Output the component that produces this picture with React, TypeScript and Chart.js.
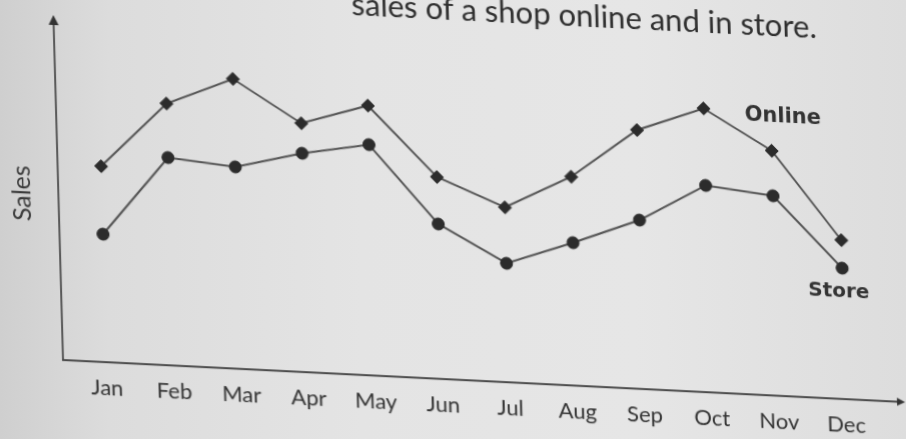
import React, { useEffect, useRef } from "react";
import { Chart, registerables } from "chart.js";

Chart.register(...registerables);

// ---- data (y units are arbitrary "sales") ----
const months = ["Jan", "Feb", "Mar", "Apr", "May", "Jun", "Jul", "Aug", "Sep", "Oct", "Nov", "Dec"];
const onlineSales = [196, 262, 290, 249, 270, 202, 175, 209, 259, 284, 245, 159];
const storeSales = [128, 208, 202, 219, 231, 155, 119, 143, 169, 207, 200, 131];
const yMax = 340;

const titleText = "sales of a shop online and in store.";
const yAxisTitle = "Sales";
const onlineLabel = "Online";
const storeLabel = "Store";

const ink = "#333333";
const lineInk = "#525252";
const markInk = "#2c2c2c";

const decorPlugin = {
  id: "decor",
  afterDraw(chart: any) {
    const { ctx, chartArea } = chart;
    const ax = chartArea.left - 10;
    const ay = chartArea.bottom;
    ctx.save();
    // axes
    ctx.strokeStyle = "#4a4a4a";
    ctx.fillStyle = "#333";
    ctx.lineWidth = 1.8;
    ctx.beginPath();
    ctx.moveTo(ax, ay);
    ctx.lineTo(ax, chartArea.top + 2);
    ctx.stroke();
    ctx.beginPath();
    ctx.moveTo(ax, chartArea.top - 5);
    ctx.lineTo(ax - 5, chartArea.top + 5);
    ctx.lineTo(ax + 5, chartArea.top + 5);
    ctx.closePath();
    ctx.fill();

    const tipX = 905;
    ctx.beginPath();
    ctx.moveTo(ax - 1, ay);
    ctx.lineTo(tipX - 4, ay);
    ctx.stroke();
    ctx.beginPath();
    ctx.moveTo(tipX, ay);
    ctx.lineTo(tipX - 8, ay - 4);
    ctx.lineTo(tipX - 8, ay + 4);
    ctx.closePath();
    ctx.fill();

    // y-axis title
    ctx.save();
    ctx.fillStyle = "#3a3a3a";
    ctx.font = "25px Lato";
    ctx.textAlign = "center";
    ctx.textBaseline = "middle";
    ctx.translate(27, (chartArea.top + chartArea.bottom) / 2 + 5);
    ctx.rotate(-Math.PI / 2);
    ctx.fillText(yAxisTitle, 0, 0);
    ctx.restore();

    // title (top line partly cut in the photo)
    ctx.fillStyle = "#2f2f2f";
    ctx.font = "31px Lato";
    ctx.textAlign = "right";
    ctx.textBaseline = "middle";
    ctx.fillText(titleText, 827, 30);

    // series labels
    ctx.fillStyle = ink;
    ctx.textAlign = "center";
    ctx.font = "bold 21px 'DejaVu Sans'";
    const on = chart.getDatasetMeta(0).data[10];
    if (on) ctx.fillText(onlineLabel, on.x + 12, on.y - 34);
    ctx.font = "bold 20px 'DejaVu Sans'";
    const st = chart.getDatasetMeta(1).data[11];
    if (st) ctx.fillText(storeLabel, st.x - 4, st.y + 24);
    ctx.restore();
  },
};

export default function App() {
  const ref = useRef<HTMLCanvasElement | null>(null);

  useEffect(() => {
    if (!ref.current) return;
    const chart = new Chart(ref.current, {
      type: "line",
      data: {
        labels: months,
        datasets: [
          {
            label: onlineLabel,
            data: onlineSales,
            borderColor: lineInk,
            borderWidth: 2,
            tension: 0,
            pointStyle: "rectRot",
            pointRadius: 6.5,
            pointBackgroundColor: markInk,
            pointBorderColor: markInk,
            pointBorderWidth: 1,
          },
          {
            label: storeLabel,
            data: storeSales,
            borderColor: lineInk,
            borderWidth: 2,
            tension: 0,
            pointStyle: "circle",
            pointRadius: 6,
            pointBackgroundColor: markInk,
            pointBorderColor: markInk,
            pointBorderWidth: 1,
          },
        ],
      },
      options: {
        responsive: false,
        animation: false,
        devicePixelRatio: 1,
        layout: { padding: { top: 60, bottom: 48.6, left: 73, right: 60.6 } },
        plugins: {
          legend: { display: false },
          tooltip: { enabled: false },
          title: { display: false },
        },
        scales: {
          x: {
            offset: true,
            grid: { display: false, drawTicks: false, tickLength: 0 },
            border: { display: false },
            ticks: {
              padding: 12.5,
              color: ink,
              font: { family: "Lato", size: 22 },
              maxRotation: 0,
              autoSkip: false,
            },
          },
          y: {
            display: false,
            min: 0,
            max: yMax,
          },
        },
      },
      plugins: [decorPlugin],
    });
    return () => chart.destroy();
  }, []);

  return (
    <div
      style={{
        position: "absolute",
        left: 0,
        top: 0,
        width: 906,
        height: 439,
        overflow: "hidden",
        background:
          "linear-gradient(90deg, #cfcfcf 0%, #dcdcdc 12%, #e4e4e4 40%, #e6e6e6 70%, #dddddd 100%)",
      }}
    >
      <div
        style={{
          position: "absolute",
          left: 0,
          top: -40,
          width: 940,
          height: 500,
          transform: "matrix(1, 0.05, 0.028, 1, 0, 0)",
          transformOrigin: "63px 400px",
        }}
      >
        <canvas ref={ref} width={940} height={500} style={{ display: "block" }} />
      </div>
    </div>
  );
}
